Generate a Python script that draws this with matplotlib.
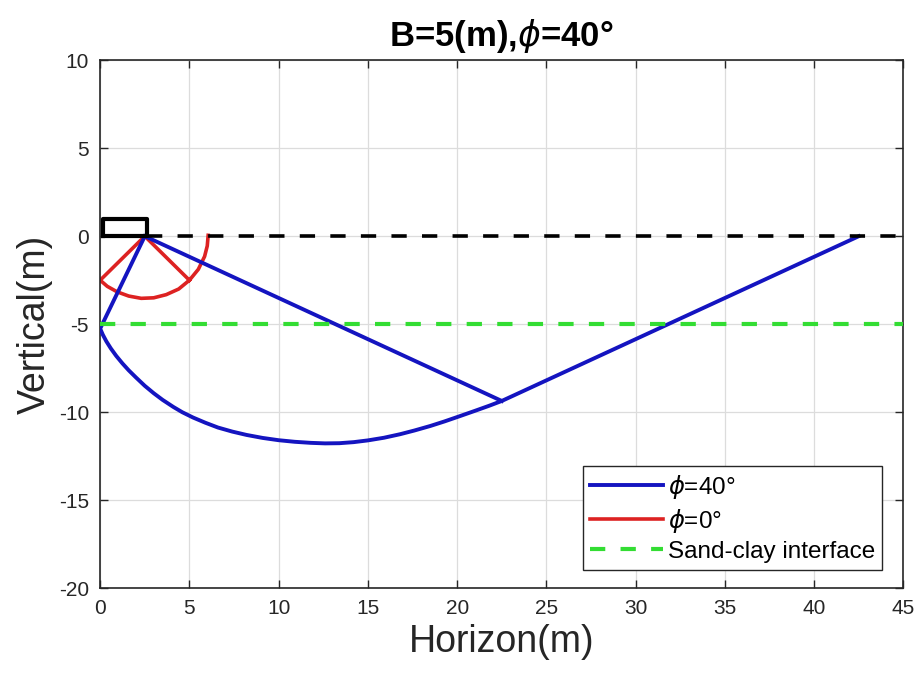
import matplotlib
matplotlib.use("Agg")
import matplotlib.pyplot as plt

plt.rcParams["font.family"] = ["Liberation Sans", "DejaVu Sans"]
plt.rcParams["mathtext.fontset"] = "dejavusans"
plt.rcParams["lines.scale_dashes"] = False
plt.rcParams["axes.unicode_minus"] = False

# values
# phi = 40 deg failure surface: wedge, log spiral, passive wedge
blue_x = [2.5, 0.0, 0.15, 0.35, 0.6, 0.9, 1.25, 1.6, 2.0, 2.5, 3.0, 3.5, 4.1,
          4.6, 5.2, 5.9, 6.6, 7.4, 8.2, 9.1, 10.0, 10.9, 11.8, 12.6, 13.4,
          14.2, 15.0, 15.9, 16.8, 17.6, 18.5, 19.3, 20.1, 21.0, 21.8, 22.5, 42.5]
blue_y = [0.0, -5.25, -5.6, -5.98, -6.38, -6.8, -7.23, -7.62, -8.02, -8.5,
          -8.92, -9.3, -9.7, -10.0, -10.3, -10.6, -10.87, -11.1, -11.29, -11.46,
          -11.59, -11.68, -11.74, -11.77, -11.76, -11.7, -11.6, -11.45, -11.25,
          -11.04, -10.78, -10.52, -10.24, -9.92, -9.63, -9.36, 0.0]
radial_x = [2.5, 22.5]
radial_y = [0.0, -9.36]

# phi = 0 deg failure surface: wedge lines plus circular arc
red_x = [5.0, 2.5, 0.0, 0.4, 0.95, 1.6, 2.3, 3.0, 3.7, 4.4, 5.0, 5.5, 5.85,
         6.0, 6.05]
red_y = [-2.5, 0.0, -2.5, -2.85, -3.16, -3.4, -3.53, -3.5, -3.32, -3.0, -2.5,
         -1.88, -1.15, -0.55, 0.05]

# ground surface, sand-clay interface, footing
ground_x = [2.6, 45]
ground_y = [0, 0]
interface_x = [0, 45]
interface_y = [-5, -5]
footing_x = [0.15, 2.6, 2.6, 0.15, 0.15]
footing_y = [0.0, 0.0, 0.95, 0.95, 0.0]

fig = plt.figure(figsize=(9.19, 6.84), dpi=100)
ax = fig.add_axes([0.109, 0.140, 0.874, 0.772])

ax.plot(blue_x, blue_y, color="#1414c0", linewidth=2.8, label=r"$\phi$=40°", zorder=3)
ax.plot(radial_x, radial_y, color="#1414c0", linewidth=2.8, zorder=3)
ax.plot(red_x, red_y, color="#dd2222", linewidth=2.6, label=r"$\phi$=0°", zorder=2)
ax.plot(interface_x, interface_y, color="#33dd33", linewidth=3, dashes=(11, 11),
        label="Sand-clay interface", zorder=4)
ax.plot(ground_x, ground_y, color="black", linewidth=2.6, dashes=(11, 11), zorder=4)
ax.plot(footing_x, footing_y, color="black", linewidth=3, zorder=5)

ax.set_xlim(0, 45)
ax.set_ylim(-20, 10)
ax.set_xticks(range(0, 46, 5))
ax.set_yticks(range(-20, 11, 5))
ax.grid(True, color="#dcdcdc", linewidth=0.9)
ax.set_axisbelow(True)
ax.tick_params(direction="in", top=True, right=True, length=6, width=1,
               labelsize=15, colors="#262626", pad=8)
for sp in ax.spines.values():
    sp.set_color("#262626")
    sp.set_linewidth(1.2)

ax.set_title(r"B=5(m),$\phi$=40°", fontsize=25, fontweight="bold", pad=10)
ax.set_xlabel("Horizon(m)", fontsize=27, color="#262626", labelpad=4)
ax.set_ylabel("Vertical(m)", fontsize=27, color="#262626", labelpad=4)

leg = ax.legend(loc="lower right", bbox_to_anchor=(0.974, 0.034), borderaxespad=0,
                fontsize=17.5, fancybox=False, framealpha=1, edgecolor="#262626",
                handlelength=3.0, handletextpad=0.2, labelspacing=0.25, borderpad=0.3)
leg.get_frame().set_linewidth(1.0)

plt.savefig("out.png", dpi=100)
